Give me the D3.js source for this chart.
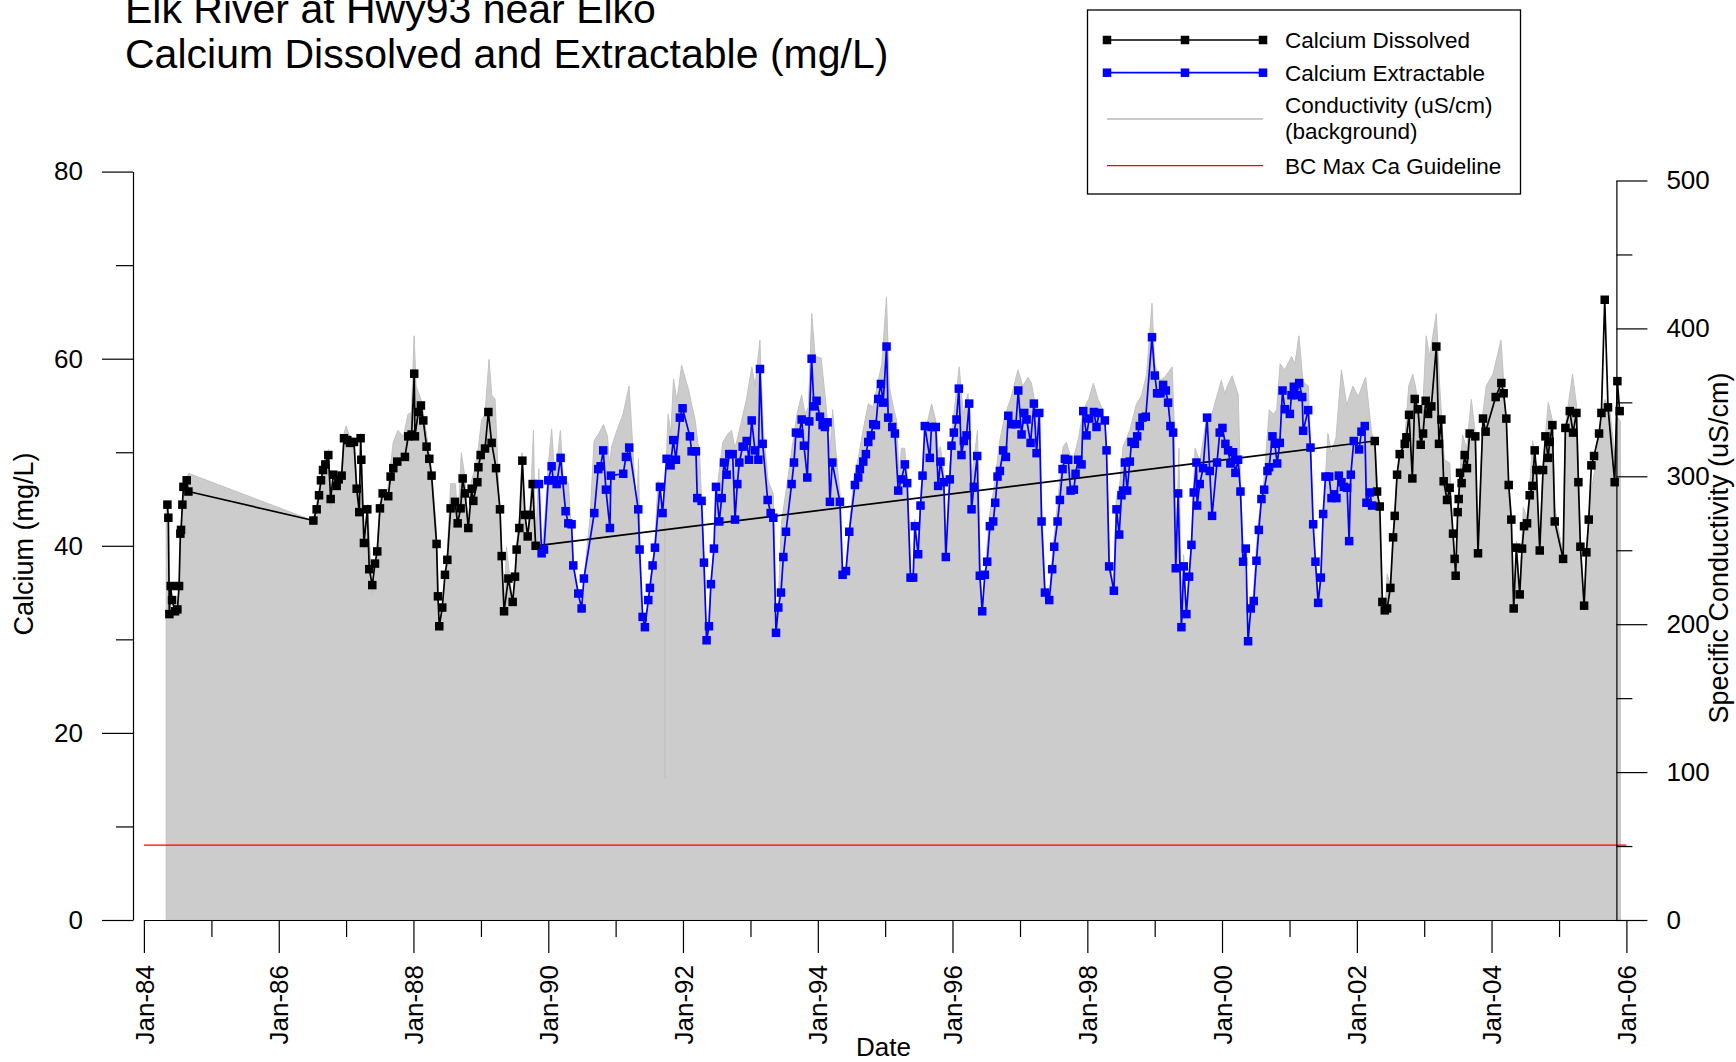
<!DOCTYPE html>
<html><head><meta charset="utf-8">
<script src="https://cdn.jsdelivr.net/npm/d3@7"></script>
<style>
body{margin:0;background:#fff}
svg{display:block}
text{font-family:"Liberation Sans",Arial,Helvetica,sans-serif;fill:#000}
</style>
</head><body>
<svg id="chart" width="1736" height="1062"></svg>
<script>
// ---------------- DATA ----------------
const titleLines = ["Elk River at Hwy93 near Elko", "Calcium Dissolved and Extractable (mg/L)"];
const legendLabels = ["Calcium Dissolved", "Calcium Extractable", "Conductivity (uS/cm)", "(background)", "BC Max Ca Guideline"];
const leftMajorTicks = [0, 20, 40, 60, 80];
const leftMinorTicks = [10, 30, 50, 70];
const rightMajorTicks = [0, 100, 200, 300, 400, 500];
const rightMinorTicks = [50, 150, 250, 350, 450];
const xMajorYears = [1984, 1986, 1988, 1990, 1992, 1994, 1996, 1998, 2000, 2002, 2004, 2006];
const xMinorYears = [1985, 1987, 1989, 1991, 1993, 1995, 1997, 1999, 2001, 2003, 2005];
const guidelineCa = 8;

// Calcium Dissolved (decimal year, mg/L)
const dissolvedDates = [1984.348,1984.362,1984.377,1984.397,1984.417,1984.461,1984.496,1984.521,1984.540,1984.550,1984.570,1984.585,1984.634,1984.659,
1986.514,1986.563,1986.598,1986.627,1986.657,1986.692,1986.736,1986.771,1986.810,1986.860,1986.890,1986.934,1986.969,1987.018,1987.058,1987.117,1987.157,1987.196,1987.216,1987.226,1987.265,1987.315,1987.344,1987.389,1987.429,1987.463,1987.503,1987.543,1987.626,1987.661,1987.701,1987.760,
1987.874,1987.923,1987.973,1988.012,1988.022,1988.072,1988.111,1988.146,1988.195,1988.235,1988.269,1988.343,1988.363,1988.383,1988.427,1988.467,1988.502,1988.551,1988.615,1988.655,1988.699,1988.729,1988.764,1988.813,1988.863,1988.887,1988.947,1988.962,1988.996,1989.061,1989.110,1989.159,1989.224,1989.283,1989.308,1989.343,1989.407,1989.471,1989.506,1989.530,1989.570,1989.615,1989.654,1989.694,1989.728,1989.768,1989.812,
2002.266,2002.300,2002.340,2002.379,2002.414,2002.449,2002.498,2002.538,2002.562,2002.597,2002.636,
2002.711,2002.735,2002.775,2002.824,2002.859,2002.908,2002.948,2002.983,2003.022,2003.057,2003.106,2003.180,2003.220,2003.255,2003.289,2003.339,2003.378,2003.428,2003.452,2003.467,2003.497,2003.512,2003.532,2003.556,2003.601,2003.635,2003.675,2003.759,2003.799,2003.873,2003.912,2004.061,2004.145,2004.179,2004.219,2004.254,2004.293,2004.328,2004.367,2004.417,2004.452,2004.481,2004.526,2004.565,2004.605,2004.639,2004.664,2004.714,2004.763,2004.798,2004.837,2004.862,2004.901,2004.936,2005.060,2005.094,2005.159,2005.208,2005.258,2005.287,2005.317,2005.372,2005.406,2005.441,2005.480,2005.520,2005.594,2005.629,2005.678,2005.727,2005.826,2005.866,2005.900];
const dissolvedCa = [44.4,43.0,32.7,35.7,34.2,33.0,33.2,35.7,41.3,41.7,44.4,46.3,47.0,45.8,
42.7,43.9,45.4,47.0,48.1,48.7,49.7,45.0,47.6,46.4,47.1,47.5,51.5,51.3,51.0,51.1,46.1,43.6,51.5,49.2,40.3,43.9,37.5,35.8,38.1,39.4,44.0,45.6,45.3,47.4,48.3,49.0,
49.5,51.7,51.9,58.4,51.7,54.3,55.0,53.4,50.6,49.3,47.5,40.2,34.6,31.4,33.4,36.9,38.5,44.0,44.7,42.4,44.0,47.2,45.6,41.9,46.1,44.8,46.8,48.4,49.7,50.4,54.3,51.0,48.3,43.9,38.9,33.0,36.5,34.0,36.7,39.6,41.9,49.1,43.3,41.0,43.3,46.6,40.0,
51.2,45.8,44.2,34.0,33.1,33.3,35.5,40.9,43.2,47.6,49.8,
50.9,51.6,54.0,47.2,55.7,54.6,50.8,52.0,55.5,54.1,54.9,61.3,50.9,53.5,46.9,44.9,46.2,41.3,38.6,36.8,43.6,45.0,47.8,46.7,49.7,48.3,52.0,51.7,39.2,53.6,52.2,55.9,57.4,56.3,53.6,46.5,42.8,33.3,39.8,34.8,39.7,42.1,42.4,45.4,46.4,50.2,48.1,39.5,48.1,51.7,49.4,51.1,52.9,42.6,38.6,52.6,54.4,52.1,54.2,46.8,39.9,33.6,39.3,42.8,48.6,49.6,52.0,54.2,66.3,54.8,46.8,57.6,54.4];

// Calcium Extractable (decimal year, mg/L)
const extractableDates = [1989.862,1989.901,1989.936,1990.000,1990.050,1990.075,1990.124,1990.183,1990.213,1990.257,1990.297,1990.346,1990.371,1990.445,1990.495,1990.529,1990.683,1990.742,1990.777,1990.816,1990.856,1990.915,1990.930,1991.113,1991.153,1991.202,1991.336,1991.356,
1991.401,1991.435,1991.485,1991.509,1991.549,1991.584,1991.658,1991.697,1991.757,1991.816,1991.856,1991.895,1991.954,1991.994,1992.103,1992.128,1992.192,1992.212,1992.276,1992.311,1992.350,1992.385,1992.414,1992.459,1992.489,1992.538,1992.573,1992.607,1992.647,1992.686,1992.736,1992.771,1992.805,1992.835,1992.884,1992.944,1992.978,1993.018,1993.067,1993.117,1993.141,1993.181,1993.255,1993.300,1993.339,1993.379,1993.413,1993.453,1993.488,1993.527,1993.611,1993.646,1993.675,1993.725,1993.760,1993.794,1993.844,1993.873,1993.908,1993.943,1993.982,1994.032,1994.071,1994.106,1994.145,1994.180,1994.215,1994.328,1994.368,1994.418,1994.467,1994.551,1994.600,1994.625,1994.675,1994.714,1994.749,1994.788,1994.823,1994.862,1994.897,1994.937,1994.971,1995.021,1995.045,1995.105,1995.145,1995.194,
1995.243,1995.293,1995.327,1995.377,1995.416,1995.441,1995.490,1995.525,1995.555,1995.589,1995.663,1995.688,1995.752,1995.787,1995.822,1995.871,1995.901,1995.960,1995.985,1996.020,1996.059,1996.094,1996.133,1996.168,1996.208,1996.247,1996.282,1996.316,1996.366,1996.405,1996.440,1996.479,1996.514,1996.554,1996.603,1996.633,1996.667,1996.702,1996.751,1996.791,1996.826,1996.875,1996.939,1996.974,1997.023,1997.063,1997.098,1997.157,1997.206,1997.246,1997.286,1997.320,1997.370,1997.434,1997.478,1997.508,1997.558,1997.592,1997.632,1997.666,1997.716,1997.751,1997.800,1997.825,1997.864,1997.914,1997.939,1997.988,1998.028,1998.097,1998.136,1998.176,1998.260,1998.285,1998.324,1998.394,1998.433,1998.473,1998.507,1998.532,1998.557,1998.591,1998.631,1998.656,1998.705,1998.740,1998.779,1998.819,1998.868,1998.960,
1999.002,1999.036,1999.086,1999.125,1999.165,1999.199,1999.234,1999.274,1999.313,1999.348,1999.397,1999.432,1999.471,1999.511,1999.546,1999.580,1999.620,1999.630,1999.669,1999.719,1999.778,1999.818,1999.852,1999.926,1999.966,2000.006,2000.050,2000.090,2000.124,2000.164,2000.198,2000.238,2000.273,2000.312,2000.352,2000.386,2000.426,2000.470,2000.510,2000.545,2000.584,2000.624,2000.673,2000.698,2000.747,2000.782,2000.817,2000.856,2000.896,2000.930,2001.005,2001.029,2001.064,2001.104,2001.143,2001.188,2001.202,2001.277,2001.311,2001.351,2001.385,2001.425,2001.465,2001.499,2001.534,2001.588,2001.623,2001.662,2001.697,2001.732,2001.771,2001.806,2001.855,2001.885,2001.910,2001.954,2002.033,2002.068,2002.117,2002.142,2002.191,2002.226];
const extractableCa = [46.6,39.2,39.6,47.0,48.5,47.0,46.6,49.4,47.0,43.7,42.4,42.3,37.9,34.9,33.3,36.5,43.5,48.2,48.5,50.2,46.0,41.9,47.5,47.7,49.5,50.5,43.9,39.6,
32.4,31.3,34.2,35.5,37.9,39.8,46.3,43.5,49.3,48.6,51.3,49.2,53.7,54.7,51.7,50.1,50.1,45.1,44.8,38.2,29.9,31.4,35.9,39.7,46.3,42.6,45.1,48.9,47.6,49.8,49.8,42.8,46.6,48.9,50.6,51.2,49.2,53.4,50.2,49.2,58.9,50.9,44.9,43.5,43.0,30.7,33.4,35.0,38.8,41.5,46.6,48.9,52.1,52.0,53.5,50.7,47.3,53.3,60.0,54.9,55.5,53.8,52.9,52.7,53.2,44.7,48.9,44.7,36.9,37.3,41.5,46.5,47.3,48.2,49.0,49.8,51.1,51.8,53.0,52.9,55.7,57.3,55.3,61.3,53.7,52.7,52.0,45.9,
47.1,48.7,46.7,36.6,36.6,42.1,39.1,44.3,47.5,52.8,49.4,52.7,52.7,46.4,49.0,46.8,38.8,47.1,50.7,52.1,53.5,56.8,49.7,51.2,51.8,55.2,43.9,46.3,49.6,36.8,33.0,36.9,38.3,42.1,42.6,44.6,47.4,48.0,50.2,49.5,53.9,53.0,53.0,56.6,51.9,54.2,53.5,51.0,55.2,49.9,54.2,42.6,35.0,34.2,37.5,39.9,42.6,44.9,48.2,49.3,49.2,45.9,46.0,47.7,49.2,48.7,54.4,51.8,53.6,54.3,52.7,54.2,53.4,50.2,37.8,35.2,43.9,41.2,45.4,45.9,48.9,45.9,49.0,51.1,50.9,51.7,52.8,53.7,53.8,62.3,
58.2,56.3,56.3,57.2,56.6,55.3,52.8,52.1,37.6,45.6,31.3,37.8,32.7,36.7,40.1,45.7,48.9,44.3,46.6,48.3,53.7,48.0,43.2,48.9,52.1,52.6,50.9,50.2,48.8,50.0,47.8,49.2,45.8,38.3,39.7,29.8,33.3,34.1,38.4,41.7,45.0,46.0,48.0,48.4,51.7,50.9,48.8,51.0,56.6,54.6,54.1,56.1,57.0,56.1,57.4,55.9,52.3,54.5,50.5,42.3,38.3,33.9,36.6,43.4,47.4,47.4,45.1,45.5,45.1,47.5,46.8,46.3,46.2,40.5,47.6,51.2,50.3,52.2,52.8,44.6,45.7,44.3];

// Specific conductivity background (decimal year, uS/cm)
const conductivityDates = [1984.33,1984.35,1984.37,1984.50,1984.53,1984.56,1984.60,1984.66,1986.51,1986.56,1986.63,1986.70,1986.74,1986.77,1986.81,1986.86,1986.93,1986.97,1987.00,1987.06,1987.12,1987.16,1987.20,1987.22,1987.27,1987.32,1987.39,1987.46,1987.50,1987.55,1987.62,1987.70,1987.77,1987.85,1987.92,1987.97,
1988.01,1988.04,1988.12,1988.20,1988.27,1988.34,1988.38,1988.43,1988.50,1988.55,1988.62,1988.66,1988.71,1988.76,1988.81,1988.86,1988.91,1988.96,1989.01,1989.06,1989.12,1989.16,1989.21,1989.26,1989.31,1989.34,1989.38,1989.47,1989.53,1989.57,1989.61,1989.65,1989.69,1989.73,1989.78,1989.81,1989.86,1989.90,1989.95,
1990.00,1990.05,1990.10,1990.18,1990.22,1990.30,1990.37,1990.44,1990.50,1990.55,1990.62,1990.68,1990.75,1990.82,1990.88,1990.91,1990.94,1991.02,1991.11,1991.20,1991.26,1991.31,1991.34,1991.38,1991.44,1991.51,1991.58,1991.63,1991.66,1991.70,1991.725,1991.73,1991.735,1991.76,1991.78,1991.82,1991.86,1991.91,1991.98,
1992.08,1992.18,1992.25,1992.31,1992.35,1992.40,1992.46,1992.52,1992.59,1992.67,1992.72,1992.77,1992.81,1992.87,1992.94,1993.02,1993.07,1993.14,1993.19,1993.26,1993.34,1993.38,1993.41,1993.46,1993.55,1993.62,1993.69,1993.76,1993.81,1993.86,1993.91,1993.96,
1994.05,1994.12,1994.18,1994.22,1994.27,1994.33,1994.37,1994.42,1994.47,1994.53,1994.60,1994.68,1994.75,1994.82,1994.90,1994.95,1995.02,1995.06,1995.13,1995.17,1995.21,1995.24,1995.29,1995.33,1995.38,1995.42,1995.44,1995.49,1995.53,1995.57,1995.61,1995.69,1995.75,1995.79,1995.82,1995.87,1995.90,1995.96,
1996.02,1996.10,1996.16,1996.23,1996.28,1996.37,1996.41,1996.44,1996.51,1996.55,1996.63,1996.70,1996.78,1996.86,1996.97,1997.04,1997.12,1997.17,1997.24,1997.29,1997.32,1997.37,1997.43,1997.49,1997.59,1997.64,1997.69,1997.75,1997.80,1997.87,1997.94,
1998.02,1998.09,1998.16,1998.23,1998.28,1998.33,1998.39,1998.43,1998.48,1998.53,1998.63,1998.73,1998.80,1998.88,1998.96,1999.00,1999.08,1999.15,1999.26,1999.29,1999.31,1999.36,1999.40,1999.43,1999.47,1999.55,1999.60,1999.67,1999.78,1999.85,1999.99,
2000.04,2000.08,2000.15,2000.24,2000.27,2000.31,2000.39,2000.46,2000.53,2000.62,2000.70,2000.76,2000.81,2000.86,2000.93,2001.03,2001.08,2001.14,2001.20,2001.28,2001.31,2001.36,2001.42,2001.48,2001.53,2001.57,2001.62,2001.69,2001.77,2001.85,2001.94,
2002.02,2002.08,2002.13,2002.22,2002.27,2002.31,2002.38,2002.42,2002.45,2002.50,2002.54,2002.60,2002.66,2002.71,2002.77,2002.83,2002.87,2002.94,2002.98,2003.03,2003.08,2003.18,2003.23,2003.30,2003.38,2003.44,2003.47,2003.50,2003.57,2003.63,2003.70,2003.76,2003.80,2003.87,2003.92,
2004.02,2004.14,2004.19,2004.24,2004.29,2004.33,2004.37,2004.42,2004.47,2004.53,2004.61,2004.66,2004.71,2004.76,2004.84,2004.90,2004.94,2005.06,2005.09,2005.20,2005.26,2005.29,2005.32,2005.37,2005.41,2005.46,2005.55,2005.63,2005.68,2005.75,2005.83,2005.87,2005.91];
const conductivityValues = [284,281,207,206,234,269,294,302,270,281,300,312,318,278,302,296,304,329,334,326,326,297,278,329,259,281,221,253,281,291,291,323,331,327,342,343,
395,361,351,327,304,264,198,212,247,295,295,272,316,300,269,297,305,319,338,342,379,355,352,297,250,207,252,214,254,274,316,275,261,278,331,254,305,248,272,
307,332,297,331,300,295,240,221,211,240,272,324,329,335,327,307,320,331,342,361,316,271,312,206,198,226,253,297,294,278,291,96,291,320,342,329,366,351,375,
359,338,312,244,190,218,253,297,323,329,331,319,326,338,352,374,361,392,332,297,288,195,212,269,297,320,342,355,342,347,410,381,
380,349,316,345,316,288,236,236,266,297,312,333,349,347,365,376,421,361,345,338,297,319,319,300,234,234,271,253,288,319,333,349,338,316,320,304,250,307,
342,374,342,356,297,331,240,209,252,274,297,324,342,352,372,361,367,363,345,345,285,225,216,252,297,320,323,313,313,326,345,
352,363,352,345,326,244,225,285,294,320,331,349,354,369,417,376,365,367,374,335,240,319,199,247,209,259,319,310,342,342,365,
356,361,368,355,304,253,190,218,266,297,345,342,345,376,372,381,376,395,364,361,323,253,215,247,297,329,316,326,372,348,361,
354,361,367,329,324,291,218,211,234,226,262,304,319,324,361,369,361,338,348,395,381,410,361,311,309,247,234,281,328,319,352,329,253,342,361,
369,392,357,304,278,212,256,221,279,272,324,307,253,307,350,338,278,247,333,369,348,304,253,214,253,285,310,342,352,347,312,340,337];

// ---------------- CHART ----------------
const FONT = '"Liberation Sans", Arial, Helvetica, sans-serif';
const svg = d3.select('#chart');
const toDate = y => { const Y = Math.floor(y); const a = new Date(Y, 0, 1), b = new Date(Y + 1, 0, 1); return new Date(+a + (y - Y) * (b - a)); };

const x = d3.scaleTime().domain([new Date(1984, 0, 1), new Date(2006, 0, 1)]).range([143.9, 1626.4]);
const yL = d3.scaleLinear().domain([0, 80]).range([920, 171.6]);
const yR = d3.scaleLinear().domain([0, 500]).range([920, 180.5]);

// conductivity background area
const condData = conductivityDates.map((d, i) => ({ d: toDate(d), v: conductivityValues[i] }));
svg.append('path').datum(condData)
  .attr('d', d3.area().x(p => x(p.d)).y0(yR(0)).y1(p => yR(p.v)))
  .attr('fill', '#cccccc').attr('stroke', '#c2c2c2').attr('stroke-width', 1);

// guideline
svg.append('line')
  .attr('x1', x(new Date(1984, 0, 1))).attr('x2', x(new Date(2006, 0, 1)))
  .attr('y1', yL(guidelineCa)).attr('y2', yL(guidelineCa))
  .attr('stroke', '#ff0000').attr('stroke-width', 1.3);

function styleAxis(g) {
  g.attr('font-size', 26).attr('font-family', FONT);
  g.selectAll('path,line').attr('stroke', '#000').attr('stroke-width', 1.2);
  g.selectAll('text').attr('fill', '#000');
}

// left axis
svg.append('g').attr('transform', 'translate(133,0)')
  .call(d3.axisLeft(yL).tickValues(leftMajorTicks).tickSize(31).tickPadding(19).tickSizeOuter(0)).call(styleAxis);
svg.append('g').attr('transform', 'translate(133,0)')
  .call(d3.axisLeft(yL).tickValues(leftMinorTicks).tickSize(17).tickFormat('')).call(styleAxis)
  .call(g => g.select('.domain').remove());

// right axis
svg.append('g').attr('transform', 'translate(1616.4,0)')
  .call(d3.axisRight(yR).tickValues(rightMajorTicks).tickSize(31).tickPadding(19).tickSizeOuter(0)).call(styleAxis);
svg.append('g').attr('transform', 'translate(1616.4,0)')
  .call(d3.axisRight(yR).tickValues(rightMinorTicks).tickSize(16).tickFormat('')).call(styleAxis)
  .call(g => g.select('.domain').remove());

// bottom axis
const fmt = d3.timeFormat('Jan-%y');
svg.append('g').attr('transform', 'translate(0,920)')
  .call(d3.axisBottom(x).tickValues(xMajorYears.map(y => new Date(y, 0, 1))).tickSize(33).tickSizeOuter(0).tickFormat(fmt))
  .call(styleAxis)
  .call(g => g.selectAll('.tick text')
    .attr('transform', 'rotate(-90)').attr('text-anchor', 'end')
    .attr('x', -45).attr('y', 0).attr('dy', '0.35em'));
svg.append('g').attr('transform', 'translate(0,920)')
  .call(d3.axisBottom(x).tickValues(xMinorYears.map(y => new Date(y, 0, 1))).tickSize(17).tickFormat(''))
  .call(styleAxis).call(g => g.select('.domain').remove());

// series
const line = d3.line().x(p => x(p.d)).y(p => yL(p.v));
const MS = 8.5;
function drawSeries(dates, vals, color) {
  const data = dates.map((d, i) => ({ d: toDate(d), v: vals[i] }));
  svg.append('path').datum(data).attr('d', line)
    .attr('fill', 'none').attr('stroke', color).attr('stroke-width', 1.7).attr('stroke-linejoin', 'round');
  svg.append('g').selectAll('rect').data(data).join('rect')
    .attr('x', p => x(p.d) - MS / 2).attr('y', p => yL(p.v) - MS / 2)
    .attr('width', MS).attr('height', MS).attr('fill', color);
}
drawSeries(dissolvedDates, dissolvedCa, '#000000');
drawSeries(extractableDates, extractableCa, '#0000ff');

// titles
svg.append('text').attr('x', 125).attr('y', 23).attr('font-size', 41).attr('font-family', FONT).text(titleLines[0]);
svg.append('text').attr('x', 125).attr('y', 68).attr('font-size', 41).attr('font-family', FONT).text(titleLines[1]);
svg.append('text').attr('transform', 'translate(33,544) rotate(-90)').attr('text-anchor', 'middle')
  .attr('font-size', 27).attr('font-family', FONT).text('Calcium (mg/L)');
svg.append('text').attr('transform', 'translate(1728,548) rotate(-90)').attr('text-anchor', 'middle')
  .attr('font-size', 27).attr('font-family', FONT).text('Specific Conductivity (uS/cm)');
svg.append('text').attr('x', 883.5).attr('y', 1056).attr('text-anchor', 'middle')
  .attr('font-size', 26).attr('font-family', FONT).text('Date');

// legend
const lg = svg.append('g');
lg.append('rect').attr('x', 1087.5).attr('y', 10).attr('width', 433).attr('height', 184)
  .attr('fill', '#fff').attr('stroke', '#000').attr('stroke-width', 1.3);
function legendMarkerRow(y, color) {
  lg.append('line').attr('x1', 1107).attr('x2', 1263).attr('y1', y).attr('y2', y).attr('stroke', color).attr('stroke-width', 1.7);
  [1107, 1185, 1263].forEach(cx => lg.append('rect').attr('x', cx - MS / 2).attr('y', y - MS / 2).attr('width', MS).attr('height', MS).attr('fill', color));
}
legendMarkerRow(40, '#000000');
legendMarkerRow(72.7, '#0000ff');
lg.append('line').attr('x1', 1107).attr('x2', 1263).attr('y1', 119).attr('y2', 119).attr('stroke', '#b8b8b8').attr('stroke-width', 1.3);
lg.append('line').attr('x1', 1107).attr('x2', 1263).attr('y1', 165.7).attr('y2', 165.7).attr('stroke', '#ff0000').attr('stroke-width', 1.3);
const legendY = [48.3, 81, 113.3, 138.5, 173.5];
legendLabels.forEach((t, i) => lg.append('text').attr('x', 1285).attr('y', legendY[i])
  .attr('font-size', 22.5).attr('font-family', FONT).text(t));
</script>
</body></html>
